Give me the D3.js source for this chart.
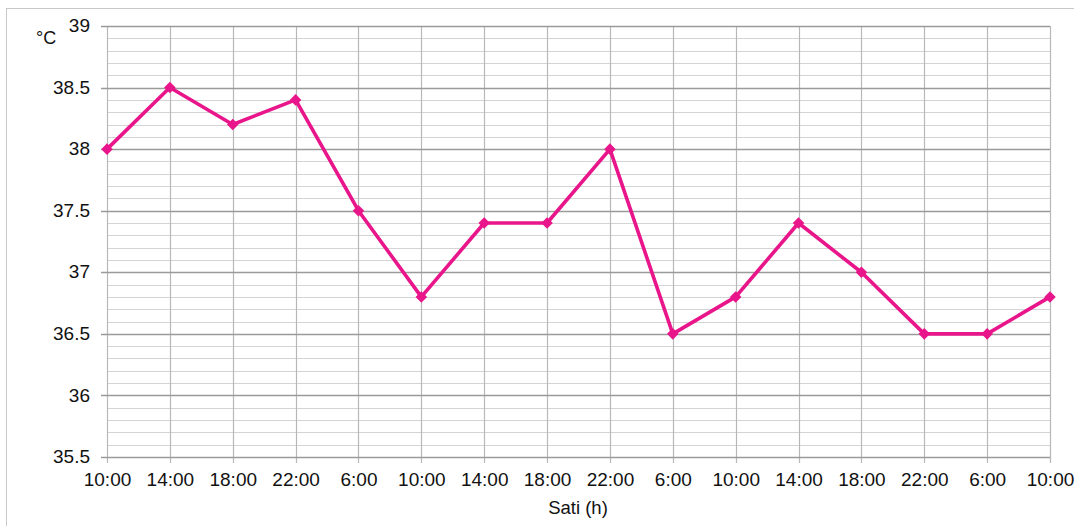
<!DOCTYPE html>
<html><head><meta charset="utf-8">
<script src="https://cdn.jsdelivr.net/npm/d3@7"></script>
<style>body{margin:0;background:#fff;}svg{display:block;font-family:"Liberation Sans",Arial,sans-serif;}</style>
</head><body><svg id="c" width="1074" height="526"></svg>
<script>
const categories = ["10:00","14:00","18:00","22:00","6:00","10:00","14:00","18:00","22:00","6:00","10:00","14:00","18:00","22:00","6:00","10:00"];
const temperatures = [38, 38.5, 38.2, 38.4, 37.5, 36.8, 37.4, 37.4, 38, 36.5, 36.8, 37.4, 37, 36.5, 36.5, 36.8];
const yTicks = [35.5, 36, 36.5, 37, 37.5, 38, 38.5, 39];
const yMinorTicks = d3.range(355, 391).map(v => v / 10);
const xTitle = "Sati (h)";
const yUnit = "°C";

const svg = d3.select("#c");
const L = 107, R = 1050, T = 26, B = 457;
const idx = categories.map((_, i) => i);
const x = d3.scaleLinear().domain([0, categories.length - 1]).range([L, R]);
const y = d3.scaleLinear().domain([35.5, 39]).range([B, T]);

// outer frame
svg.append("rect").attr("x", 6.5).attr("y", 8.5).attr("width", 1100).attr("height", 600)
  .attr("fill", "none").attr("stroke", "#c8c8c8").attr("stroke-width", 1);

// minor horizontal grid
svg.append("g").selectAll("line").data(yMinorTicks).join("line")
  .attr("x1", L).attr("x2", R).attr("y1", d => Math.round(y(d)) + 0.5).attr("y2", d => Math.round(y(d)) + 0.5)
  .attr("stroke", "#d4d4d4").attr("stroke-width", 1);

// vertical grid
svg.append("g").selectAll("line").data(idx).join("line")
  .attr("x1", d => Math.round(x(d)) + 0.5).attr("x2", d => Math.round(x(d)) + 0.5)
  .attr("y1", T).attr("y2", B + 6)
  .attr("stroke", "#b8b8b8").attr("stroke-width", 1.2);

// major horizontal grid
svg.append("g").selectAll("line").data(yTicks).join("line")
  .attr("x1", L - 6).attr("x2", R).attr("y1", d => Math.round(y(d)) + 0.5).attr("y2", d => Math.round(y(d)) + 0.5)
  .attr("stroke", "#9a9a9a").attr("stroke-width", 1.6);

// y axis labels
const yAxis = d3.axisLeft(y).tickValues(yTicks).tickSize(0).tickPadding(0).tickFormat(d3.format(""));
const gy = svg.append("g").attr("transform", `translate(${L - 17},0)`).call(yAxis);
gy.select(".domain").remove();
gy.attr("font-size", 19).attr("font-family", "Liberation Sans, Arial, sans-serif");
gy.selectAll("text").attr("fill", "#111").attr("dy", "0.3em");

// x axis labels
const xAxis = d3.axisBottom(x).tickValues(idx).tickSize(0).tickPadding(0).tickFormat(i => categories[i]);
const gx = svg.append("g").attr("transform", `translate(0,${B + 15})`).call(xAxis);
gx.select(".domain").remove();
gx.attr("font-size", 19).attr("font-family", "Liberation Sans, Arial, sans-serif");
gx.selectAll("text").attr("fill", "#111");

svg.append("text").attr("x", 578).attr("y", 514).attr("text-anchor", "middle")
  .attr("font-size", 18.5).attr("fill", "#111").text(xTitle);
svg.append("text").attr("x", 36).attr("y", 44).attr("font-size", 18).attr("fill", "#111").text(yUnit);

// line
const line = d3.line().x((d, i) => x(i)).y(d => y(d));
svg.append("path").datum(temperatures).attr("d", line)
  .attr("fill", "none").attr("stroke", "#e8168a").attr("stroke-width", 3.6).attr("stroke-linejoin", "round");

svg.append("g").selectAll("path").data(temperatures).join("path")
  .attr("d", d3.symbol().type(d3.symbolDiamond2).size(85))
  .attr("transform", (d, i) => `translate(${x(i)},${y(d)})`)
  .attr("fill", "#e8168a");
</script></body></html>
